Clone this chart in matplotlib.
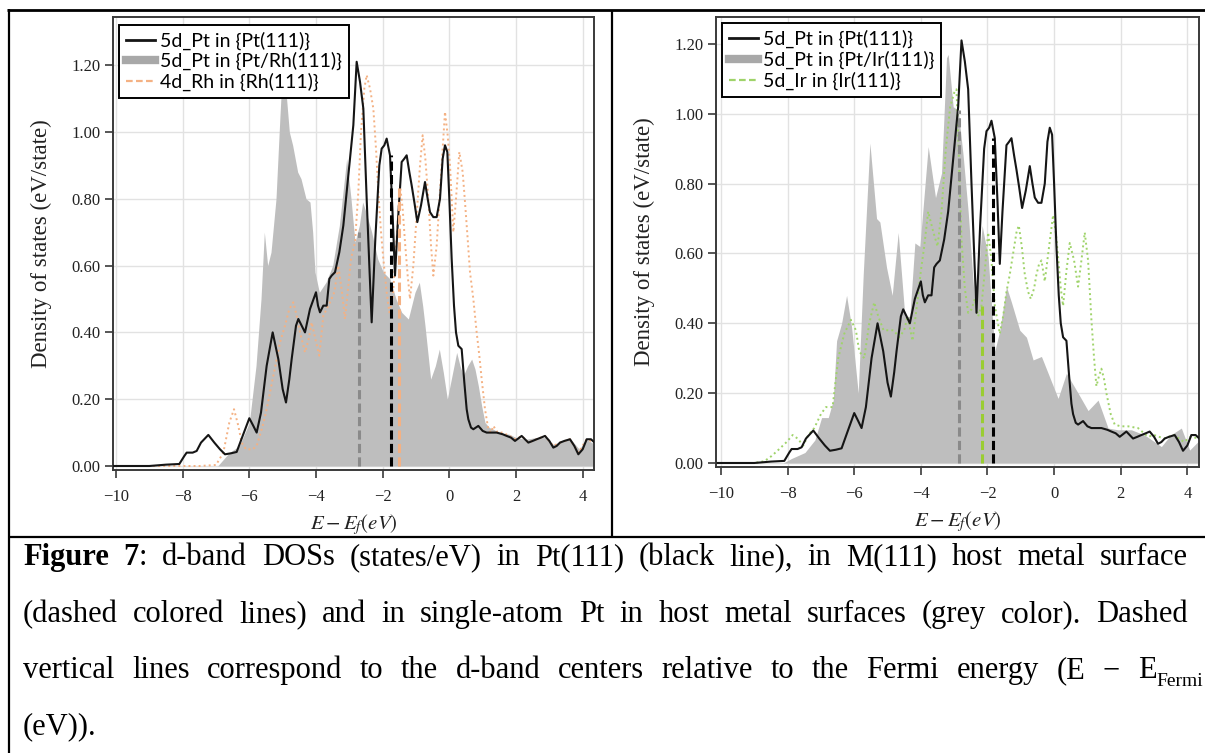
import matplotlib
matplotlib.use("Agg")
import matplotlib.pyplot as plt
from matplotlib.lines import Line2D
from matplotlib.ticker import FormatStrFormatter

# ---------------- data ----------------
PT111_E = [-10.1, -9.0, -8.5, -8.1, -7.95, -7.88, -7.7, -7.58, -7.45, -7.23,
           -7.05, -6.88, -6.73, -6.55, -6.38, -6.2, -6.0, -5.88, -5.78, -5.65,
           -5.48, -5.3, -5.13, -5.0, -4.9, -4.8, -4.73, -4.6, -4.53, -4.43,
           -4.33, -4.18, -4.0, -3.94, -3.88, -3.78, -3.68, -3.6, -3.53, -3.43,
           -3.3, -3.18, -3.08, -2.98, -2.88, -2.78, -2.68, -2.58, -2.48, -2.4,
           -2.33, -2.22, -2.1, -2.03, -1.95, -1.88, -1.78, -1.7, -1.63, -1.55,
           -1.43, -1.35, -1.28, -1.2, -1.13, -1.05, -0.96, -0.85, -0.73, -0.65,
           -0.58, -0.48, -0.38, -0.28, -0.2, -0.13, -0.06, 0.0, 0.07, 0.14,
           0.2, 0.27, 0.37, 0.45, 0.52, 0.57, 0.65, 0.72, 0.87, 1.0,
           1.12, 1.3, 1.42, 1.6, 1.72, 1.85, 1.97, 2.17, 2.37, 2.5,
           2.62, 2.75, 2.87, 3.0, 3.12, 3.22, 3.32, 3.45, 3.62, 3.75,
           3.87, 4.0, 4.12, 4.25, 4.36]
PT111_DOS = [0.0, 0.0, 0.004, 0.006, 0.03, 0.04, 0.04, 0.045, 0.07, 0.093,
             0.07, 0.05, 0.035, 0.038, 0.042, 0.09, 0.143, 0.12, 0.10, 0.16,
             0.30, 0.40, 0.32, 0.23, 0.19, 0.26, 0.32, 0.42, 0.44, 0.42,
             0.40, 0.47, 0.52, 0.48, 0.46, 0.48, 0.48, 0.56, 0.57, 0.58,
             0.64, 0.72, 0.82, 0.92, 1.02, 1.21, 1.15, 1.07, 0.80, 0.60,
             0.43, 0.68, 0.90, 0.95, 0.96, 0.98, 0.93, 0.75, 0.57, 0.72,
             0.91, 0.92, 0.93, 0.88, 0.84, 0.79, 0.73, 0.78, 0.85, 0.80,
             0.76, 0.745, 0.745, 0.80, 0.92, 0.96, 0.94, 0.80, 0.62, 0.48,
             0.40, 0.36, 0.35, 0.25, 0.17, 0.14, 0.115, 0.11, 0.12, 0.105,
             0.10, 0.10, 0.10, 0.095, 0.09, 0.085, 0.075, 0.09, 0.07, 0.075,
             0.08, 0.085, 0.09, 0.075, 0.055, 0.06, 0.07, 0.075, 0.08, 0.06,
             0.035, 0.05, 0.08, 0.08, 0.07]

PTRH_E = [-10.1, -6.95, -6.6, -6.3, -6.0, -5.8, -5.65, -5.55, -5.45, -5.35,
          -5.2, -5.08, -4.98, -4.9, -4.8, -4.7, -4.55, -4.45, -4.3, -4.18,
          -4.1, -4.03, -3.9, -3.7, -3.5, -3.3, -3.08, -2.95, -2.83, -2.7,
          -2.6, -2.5, -2.33, -2.15, -1.98, -1.78, -1.6, -1.43, -1.23, -1.03,
          -0.9, -0.8, -0.73, -0.56, -0.42, -0.3, -0.18, -0.06, 0.1, 0.22,
          0.32, 0.42, 0.55, 0.67, 0.77, 0.87, 0.97, 1.07, 1.2, 1.32,
          1.5, 1.8, 2.0, 2.3, 2.6, 2.9, 3.1, 3.3, 3.6, 3.9,
          4.1, 4.36]
PTRH_DOS = [0.0, 0.0, 0.04, 0.06, 0.13, 0.30, 0.50, 0.70, 0.60, 0.64,
            0.80, 1.05, 1.24, 1.12, 1.00, 0.96, 0.88, 0.86, 0.80, 0.79,
            0.70, 0.58, 0.52, 0.55, 0.60, 0.72, 0.92, 0.80, 0.67, 0.72,
            0.79, 0.76, 0.70, 0.62, 0.58, 0.56, 0.50, 0.46, 0.44, 0.52,
            0.55, 0.48, 0.42, 0.26, 0.30, 0.35, 0.28, 0.20, 0.28, 0.34,
            0.30, 0.27, 0.30, 0.32, 0.29, 0.24, 0.18, 0.13, 0.115, 0.11,
            0.10, 0.095, 0.085, 0.08, 0.085, 0.085, 0.065, 0.07, 0.085, 0.05,
            0.08, 0.065]

RH_E = [-10.1, -7.5, -7.0, -6.78, -6.6, -6.46, -6.33, -6.23, -6.1, -5.9,
        -5.78, -5.6, -5.48, -5.28, -5.08, -4.93, -4.8, -4.68, -4.58, -4.48,
        -4.33, -4.22, -4.13, -4.02, -3.9, -3.78, -3.58, -3.45, -3.33, -3.22,
        -3.13, -3.05, -2.95, -2.83, -2.73, -2.65, -2.55, -2.48, -2.38, -2.28,
        -2.2, -2.13, -2.05, -1.98, -1.88, -1.8, -1.7, -1.6, -1.48, -1.4,
        -1.33, -1.25, -1.18, -1.08, -0.98, -0.88, -0.8, -0.72, -0.63, -0.55,
        -0.48, -0.38, -0.28, -0.2, -0.13, -0.05, 0.02, 0.12, 0.2, 0.3,
        0.4, 0.47, 0.55, 0.62, 0.72, 0.82, 0.9, 0.97, 1.07, 1.17,
        1.25, 1.32, 1.45, 1.6, 1.8, 2.0, 2.17, 2.37, 2.62, 2.87,
        3.12, 3.32, 3.62, 3.87, 4.12, 4.36]
RH_DOS = [0.0, 0.0, 0.003, 0.04, 0.13, 0.17, 0.12, 0.07, 0.05, 0.05,
          0.06, 0.12, 0.17, 0.27, 0.37, 0.42, 0.47, 0.49, 0.45, 0.40,
          0.34, 0.38, 0.43, 0.38, 0.33, 0.45, 0.49, 0.52, 0.60, 0.52,
          0.44, 0.52, 0.62, 0.67, 0.82, 1.0, 1.13, 1.17, 1.13, 1.07,
          0.95, 0.82, 0.70, 0.62, 0.52, 0.46, 0.50, 0.65, 0.84, 0.77,
          0.67, 0.57, 0.50, 0.60, 0.75, 0.90, 0.99, 0.92, 0.80, 0.66,
          0.57, 0.66, 0.82, 0.95, 1.06, 0.99, 0.90, 0.70, 0.80, 0.94,
          0.88, 0.79, 0.68, 0.58, 0.50, 0.40, 0.33, 0.26, 0.17, 0.11,
          0.10, 0.12, 0.10, 0.10, 0.09, 0.08, 0.09, 0.07, 0.08, 0.09,
          0.06, 0.07, 0.08, 0.04, 0.08, 0.07]

PTIR_E = [-10.15, -8.13, -7.88, -7.48, -7.18, -6.98, -6.78, -6.63, -6.53, -6.38,
          -6.23, -6.08, -5.88, -5.73, -5.53, -5.33, -5.23, -5.03, -4.86, -4.68,
          -4.48, -4.33, -4.18, -4.03, -3.78, -3.56, -3.38, -3.23, -3.18, -3.03,
          -2.88, -2.73, -2.58, -2.38, -2.28, -2.16, -1.98, -1.78, -1.63, -1.43,
          -1.28, -1.03, -0.83, -0.63, -0.38, -0.18, 0.12, 0.37, 0.72, 1.02,
          1.32, 1.62, 1.92, 2.32, 2.72, 3.22, 3.5, 3.82, 4.07, 4.37]
PTIR_DOS = [0.0, 0.0, 0.013, 0.03, 0.066, 0.13, 0.13, 0.18, 0.35, 0.40,
            0.48, 0.39, 0.20, 0.54, 0.916, 0.70, 0.69, 0.56, 0.48, 0.66,
            0.42, 0.42, 0.63, 0.62, 0.906, 0.76, 0.83, 1.16, 1.17, 1.02,
            1.01, 0.88, 0.72, 0.45, 0.54, 0.68, 0.59, 0.32, 0.38, 0.505,
            0.46, 0.38, 0.36, 0.295, 0.305, 0.257, 0.185, 0.257, 0.20, 0.15,
            0.18, 0.10, 0.095, 0.095, 0.08, 0.047, 0.08, 0.10, 0.037, 0.066]

IR_E = [-10.15, -9.0, -8.7, -8.48, -8.25, -8.03, -7.85, -7.7, -7.53, -7.38,
        -7.2, -7.0, -6.85, -6.65, -6.48, -6.3, -6.1, -5.95, -5.85, -5.7,
        -5.55, -5.4, -5.28, -5.12, -4.98, -4.82, -4.65, -4.5, -4.4, -4.25,
        -4.12, -4.0, -3.9, -3.78, -3.65, -3.5, -3.38, -3.25, -3.12, -3.0,
        -2.93, -2.85, -2.78, -2.68, -2.58, -2.48, -2.38, -2.28, -2.18, -2.08,
        -1.98, -1.88, -1.78, -1.63, -1.53, -1.43, -1.33, -1.23, -1.13, -1.06,
        -0.97, -0.88, -0.78, -0.7, -0.6, -0.53, -0.45, -0.38, -0.28, -0.15,
        -0.03, 0.05, 0.12, 0.2, 0.27, 0.37, 0.47, 0.6, 0.72, 0.82,
        0.92, 1.02, 1.12, 1.2, 1.27, 1.35, 1.42, 1.5, 1.57, 1.7,
        1.82, 2.0, 2.22, 2.52, 2.82, 3.0, 3.3, 3.6, 3.9, 4.1, 4.37]
IR_DOS = [0.0, 0.0, 0.005, 0.02, 0.04, 0.06, 0.08, 0.07, 0.05, 0.08,
          0.10, 0.14, 0.16, 0.16, 0.30, 0.37, 0.41, 0.38, 0.32, 0.30,
          0.40, 0.46, 0.42, 0.38, 0.38, 0.38, 0.36, 0.38, 0.42, 0.35,
          0.45, 0.55, 0.62, 0.72, 0.67, 0.62, 0.72, 0.90, 1.02, 1.06,
          1.07, 0.85, 0.64, 0.50, 0.43, 0.44, 0.47, 0.42, 0.45, 0.55,
          0.66, 0.58, 0.45, 0.37, 0.42, 0.49, 0.54, 0.60, 0.66, 0.68,
          0.62, 0.54, 0.49, 0.47, 0.50, 0.54, 0.57, 0.58, 0.52, 0.62,
          0.71, 0.66, 0.59, 0.50, 0.45, 0.55, 0.63, 0.58, 0.505, 0.58,
          0.66, 0.58, 0.41, 0.30, 0.22, 0.25, 0.27, 0.24, 0.20, 0.14,
          0.11, 0.105, 0.105, 0.10, 0.075, 0.08, 0.07, 0.08, 0.06, 0.075, 0.07]

# d-band centres (position, height of dashed marker)
RH_CENTERS = [-2.71, -1.76, -1.50]
RH_CENTER_TOPS = [0.70, 0.93, 0.84]
IR_CENTERS = [-2.85, -1.83, -2.16]
IR_CENTER_TOPS = [1.01, 0.93, 0.45]

LABELS_RH = ["5d_Pt in {Pt(111)}", "5d_Pt in {Pt/Rh(111)}", "4d_Rh in {Rh(111)}"]
LABELS_IR = ["5d_Pt in {Pt(111)}", "5d_Pt in {Pt/Ir(111)}", "5d_Ir in {Ir(111)}"]
X_TICKS = [-10, -8, -6, -4, -2, 0, 2, 4]
Y_TICKS = [0.0, 0.2, 0.4, 0.6, 0.8, 1.0, 1.2]

# ---------------- style ----------------
W, H = 1205, 753
plt.rcParams["mathtext.fontset"] = "stix"
plt.rcParams["font.family"] = ["Liberation Serif", "DejaVu Serif"]
fig = plt.figure(figsize=(W / 100, H / 100), dpi=100)

GREY_FILL = "#bebebe"
GREY_LEG = "#a8a8a8"
BLACK = "#151515"
ORANGE = "#f4b183"
GREEN = "#9fd36a"
SPINE = "#3a3a3a"


def fx(px):
    return px / W


def fy(py):
    return 1 - py / H


def panel(rect_px, xlim, ylim, host_e, host_dos, host_col, single_e, single_dos,
          centers, tops, labels, vcols, leg_anchor):
    x0, y0, x1, y1 = rect_px
    ax = fig.add_axes([fx(x0), fy(y1), (x1 - x0) / W, (y1 - y0) / H])
    ax.set_xlim(*xlim)
    ax.set_ylim(*ylim)
    ax.grid(True, color="#e2e2e2", lw=1.0, zorder=0)
    ax.set_axisbelow(True)
    ax.fill_between(single_e, 0, single_dos, color=GREY_FILL, lw=0, zorder=1)
    ax.plot(host_e, host_dos, color=host_col, ls=(0, (1, 1.6)), lw=1.4, zorder=2)
    ax.plot(PT111_E, PT111_DOS, color=BLACK, lw=1.5, zorder=3)
    for c, t, col in zip(centers, tops, vcols):
        ax.plot([c, c], [0, t], color=col, ls=(0, (3, 1.4)), lw=2.2, zorder=4)
    ax.set_xticks(X_TICKS)
    ax.set_yticks(Y_TICKS)
    ax.yaxis.set_major_formatter(FormatStrFormatter("%.2f"))
    ax.tick_params(axis="both", direction="out", length=6, width=1.2,
                   color=SPINE, labelsize=12, labelcolor="#222222")
    ax.tick_params(axis="y", pad=3)
    ax.tick_params(axis="x", pad=8)
    for s in ax.spines.values():
        s.set_color(SPINE)
        s.set_linewidth(1.4)
    ax.set_ylabel("Density of states (eV/state)", fontsize=16.5, labelpad=14,
                  color="#222222")
    ax.set_xlabel(r"$E - E_f(eV)$", fontsize=15, labelpad=5, color="#222222")
    handles = [Line2D([], [], color=BLACK, lw=2.0),
               Line2D([], [], color=GREY_LEG, lw=6),
               Line2D([], [], color=host_col, lw=1.6, ls=(0, (3, 1.5)))]
    leg = ax.legend(handles, labels, loc="upper left", bbox_to_anchor=leg_anchor,
                    borderaxespad=0, fancybox=False, framealpha=1,
                    edgecolor="black", prop={"family": "Lato", "size": 14},
                    handlelength=1.5, handletextpad=0.25, labelspacing=0.12,
                    borderpad=0.35)
    leg.get_frame().set_linewidth(1.4)
    return ax


panel((113, 17, 594, 470), (-10.09, 4.34), (-0.012, 1.344),
      RH_E, RH_DOS, ORANGE, PTRH_E, PTRH_DOS,
      RH_CENTERS, RH_CENTER_TOPS, LABELS_RH, ["#8a8a8a", "black", ORANGE],
      (0.0125, 0.983))
panel((716, 17, 1199, 467), (-10.15, 4.35), (-0.0115, 1.277),
      IR_E, IR_DOS, GREEN, PTIR_E, PTIR_DOS,
      IR_CENTERS, IR_CENTER_TOPS, LABELS_IR, ["#8a8a8a", "black", "#9acd32"],
      (0.0125, 0.986))

# ---------------- table borders ----------------
def hline(y, xa, xb, lw=2.0):
    fig.add_artist(Line2D([fx(xa), fx(xb)], [fy(y), fy(y)], color="black",
                          lw=lw, transform=fig.transFigure, solid_capstyle="butt"))


def vline(x, ya, yb, lw=2.0):
    fig.add_artist(Line2D([fx(x), fx(x)], [fy(ya), fy(yb)], color="black",
                          lw=lw, transform=fig.transFigure, solid_capstyle="butt"))


hline(10, 7.5, 1205, lw=2.0)
vline(8.5, 9, 753, lw=1.6)
vline(612, 10, 537, lw=1.6)
hline(537, 8, 1205, lw=1.6)

# ---------------- caption (justified) ----------------
CAP_SIZE = 22
SUB_SIZE = 14
renderer = fig.canvas.get_renderer()


def measure(s, **kw):
    t = fig.text(0, 0, s, **kw)
    w = t.get_window_extent(renderer).width
    t.remove()
    return w


def style_kw(st):
    if st == "b":
        return dict(fontsize=CAP_SIZE, fontweight="bold")
    if st == "sub":
        return dict(fontsize=SUB_SIZE)
    return dict(fontsize=CAP_SIZE)


def words_of(text):
    return [[(w, "n")] for w in text.split(" ")]


line1 = [[("Figure", "b")], [("7", "b"), (":", "n")]] + words_of(
    "d-band DOSs (states/eV) in Pt(111) (black line), in M(111) host metal surface")
line2 = words_of("(dashed colored lines) and in single-atom Pt in host metal surfaces (grey color). Dashed")
line3 = words_of("vertical lines correspond to the d-band centers relative to the Fermi energy (E \u2212") + \
    [[("E", "n"), ("Fermi", "sub")]]
line4 = words_of("(eV)).")

CAPTION = [(line1, 565, 1188, True), (line2, 622, 1188, True),
           (line3, 678, 1203, True), (line4, 734, None, False)]
X_LEFT = 23

for words, base, right, justify in CAPTION:
    widths = [[measure(s, **style_kw(st)) for s, st in w] for w in words]
    totals = [sum(w) for w in widths]
    space = measure("a b", fontsize=CAP_SIZE) - measure("ab", fontsize=CAP_SIZE)
    if justify and len(words) > 1:
        gap = (right - X_LEFT - sum(totals)) / (len(words) - 1)
    else:
        gap = space
    x = X_LEFT
    for w, ws in zip(words, widths):
        xx = x
        for (s, st), wd in zip(w, ws):
            yb = base + (8 if st == "sub" else 0)
            fig.text(fx(xx), fy(yb), s, ha="left", va="baseline",
                     color="black", **style_kw(st))
            xx += wd
        x = xx + gap

fig.savefig("out.png", dpi=100)
